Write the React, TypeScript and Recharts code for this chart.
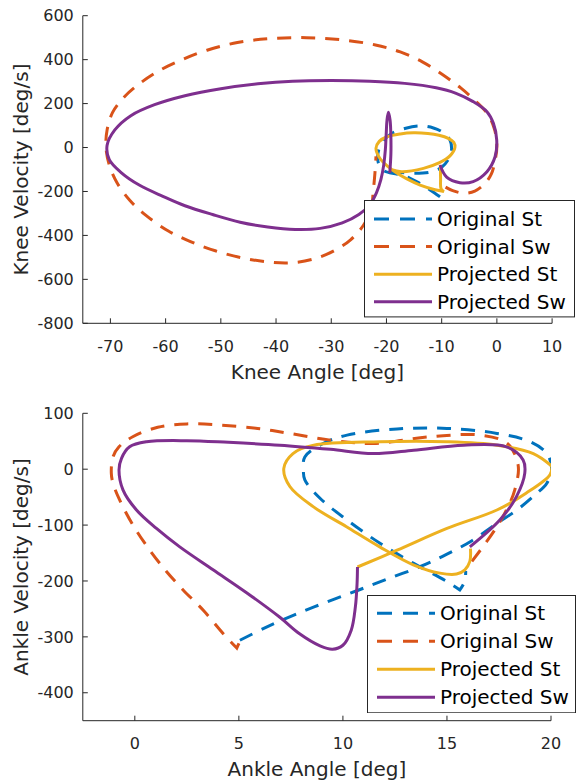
import React from 'react';
import { ComposedChart, Line, XAxis, YAxis, Label } from 'recharts';

// ---------------- data ----------------
const kneeXTicks = [-70, -60, -50, -40, -30, -20, -10, 0, 10];
const kneeYTicks = [-800, -600, -400, -200, 0, 200, 400, 600];
const ankleXTicks = [0, 5, 10, 15, 20];
const ankleYTicks = [-400, -300, -200, -100, 0, 100];

const seriesNames = ['Original St', 'Original Sw', 'Projected St', 'Projected Sw'];

// Knee: [angle, velocity]
const kneeOriginalSt = [
  [-10.3, -224], [-12.1, -193], [-14, -163], [-15.7, -140], [-18, -122], [-20.3, -108],
  [-21.2, -87], [-21.6, -50], [-21.4, -10], [-20.6, 30], [-19.2, 62], [-16.5, 88], [-13.9, 98],
  [-11.5, 89], [-9.6, 66], [-8.5, 34], [-8.2, -5], [-8.6, -45], [-10, -90], [-12.1, -112],
  [-15, -117], [-18, -112], [-20.3, -104],
];
const kneeOriginalSw = [
  [-9.3, -180], [-8, -196], [-6, -208], [-4, -198], [-2.2, -165], [-1, -120], [-0.3, -55],
  [0, 5], [-0.4, 80], [-1.6, 150], [-3.8, 210], [-6.5, 270], [-10, 335], [-13.5, 390],
  [-17.5, 435], [-22, 467], [-28, 490], [-34.5, 500], [-41, 496], [-47, 478], [-52.5, 443],
  [-57, 400], [-61, 352], [-64.5, 295], [-67.5, 230], [-69.6, 160], [-70.6, 80], [-70.8, 0],
  [-70.2, -80], [-68.8, -160], [-66.5, -240], [-63.5, -310], [-59.5, -380], [-55.5, -428],
  [-51, -470], [-46, -503], [-41, -522], [-37, -524], [-33, -506], [-29.5, -470], [-26.5, -420],
  [-24.2, -355], [-22.8, -285], [-22.4, -200], [-22.1, -120], [-21.9, -40],
];
const kneeProjectedSt = [
  [-10.2, -82], [-10.2, -140], [-10.1, -188], [-9.6, -200], [-9.6, -200], [-11.2, -192],
  [-13.9, -171], [-16.3, -143], [-18.2, -115], [-19.7, -87], [-21.2, -49], [-21.9, -4],
  [-21.3, 28], [-19.9, 49], [-17.5, 62], [-15.1, 67], [-12.5, 64], [-10.5, 56], [-8.8, 42],
  [-7.8, 24], [-7.6, 0], [-8.5, -38], [-10.5, -70], [-13.3, -95], [-17.3, -110], [-19.2, -100],
];
const kneeProjectedSw = [
  [-10.3, -80], [-9.1, -135], [-6.7, -160], [-4.3, -155], [-1.8, -110], [-0.33, -42],
  [-0.03, 34], [-0.63, 110], [-1.8, 163], [-4.3, 209], [-7.5, 248], [-11, 272], [-16.7, 292],
  [-23, 302], [-30, 305], [-37, 302], [-43.3, 290], [-50, 268], [-56.5, 236], [-62, 195],
  [-66.3, 145], [-69.2, 80], [-70.6, 10], [-70.2, -55], [-68, -115], [-64.7, -172],
  [-60.5, -222], [-56.5, -265], [-51.5, -305], [-46.5, -340], [-41.5, -362], [-36.5, -373],
  [-32, -368], [-28, -343], [-25, -305], [-23, -260], [-21.8, -205], [-21, -145], [-20.5, -80],
  [-20.2, -10], [-20.05, 60], [-19.9, 125], [-19.65, 160], [-19.35, 125], [-19.2, 50],
  [-19.2, -30], [-19.4, -115],
];

// Ankle: [angle, velocity]
const ankleOriginalSt = [
  [5.05, -306], [6.3, -283], [7.7, -260], [9.2, -238], [10.7, -217], [12.1, -197], [13.7, -174.5],
  [15, -152], [16.2, -128], [17.4, -97], [18.4, -72], [19.2, -47], [19.8, -25], [20.03, 1.5],
  [19.8, 28], [19, 49], [17.4, 64], [15, 73], [12.6, 72], [10.2, 61], [9, 45], [8.17, 22],
  [8.1, -1.5], [8.17, -19], [8.9, -52], [10.2, -91], [11.8, -133], [13.4, -168.5], [15, -201],
  [15.62, -216], [15.62, -216], [15.86, -200], [15.9, -182],
];
const ankleOriginalSw = [
  [16.2, -165], [16.9, -130], [17.4, -103], [17.86, -73], [18.26, -37], [18.42, 7.5], [17.9, 46],
  [16.6, 61], [14.2, 58], [11.45, 46], [9.4, 52], [7.45, 64], [5.9, 73], [4.1, 79], [2.5, 81],
  [1.1, 75], [-0.1, 58], [-0.76, 40], [-1.05, 22], [-1.13, -7], [-1.05, -25], [-0.73, -55],
  [-0.09, -100], [0.72, -145], [1.52, -183], [2.32, -216], [3.28, -252], [4.24, -294],
  [4.9, -320], [4.9, -320], [5.05, -308],
];
const ankleProjectedSt = [
  [10.7, -175], [12.6, -145], [15, -106], [17.4, -73], [18.8, -43], [19.95, -10], [20.05, 5],
  [20.05, 5], [19.15, 28], [17.4, 43], [15, 49], [11.8, 49], [8.6, 43], [7.6, 28], [7.16, 1.5],
  [7.45, -31], [8.57, -67], [10.17, -103], [11.77, -139], [13.38, -171], [14.66, -186],
  [15.46, -187.6], [15.86, -180], [16.1, -165], [16.13, -142],
];
const ankleProjectedSw = [
  [16.1, -139], [17.54, -91], [18.34, -49], [18.74, -7], [18.66, 16.5], [17.86, 40], [15.8, 43],
  [13.4, 34], [11.45, 28], [9.4, 35.5], [6.97, 43], [4.5, 48], [2.5, 51], [0.56, 49],
  [-0.25, 40], [-0.64, 19.5], [-0.76, -1.4], [-0.57, -37], [0.08, -73], [1.04, -106],
  [2.16, -139], [3.76, -180], [5.37, -221], [6.97, -265], [7.9, -294], [8.9, -316], [9.5, -322],
  [10, -315], [10.4, -288], [10.6, -246], [10.68, -205], [10.7, -175],
];

// ---------------- styles ----------------
const FONT = '"DejaVu Sans", Verdana, sans-serif';
const AX = '#262626';
const COLORS = ['#0072BD', '#D95319', '#EDB120', '#7E2F8E'];
const DASHES = ['14 10', '14 10', undefined, undefined];
const LW = 3;

const toPts = (a: number[][]) => a.map(([x, y]) => ({ x, y }));

// Centripetal Catmull-Rom curve factory (d3 curve interface) for parametric paths
function catmullRom(context: any) {
  let pts: number[][] = [];
  const EPS = 1e-6;
  return {
    areaStart() {},
    areaEnd() {},
    lineStart() {
      pts = [];
    },
    point(x: number, y: number) {
      pts.push([+x, +y]);
    },
    lineEnd() {
      const n = pts.length;
      if (!n) return;
      context.moveTo(pts[0][0], pts[0][1]);
      const dist = (a: number[], b: number[]) => Math.hypot(a[0] - b[0], a[1] - b[1]);
      for (let i = 0; i < n - 1; i++) {
        const p0 = pts[i - 1] || pts[i];
        const p1 = pts[i];
        const p2 = pts[i + 1];
        const p3 = pts[i + 2] || p2;
        const l01_2a = dist(p0, p1);
        const l12_2a = dist(p1, p2);
        const l23_2a = dist(p2, p3);
        const l01_a = Math.sqrt(l01_2a);
        const l12_a = Math.sqrt(l12_2a);
        const l23_a = Math.sqrt(l23_2a);
        let c1x = p1[0], c1y = p1[1], c2x = p2[0], c2y = p2[1];
        if (l01_a > EPS && l12_a > EPS) {
          const a = 2 * l01_2a + 3 * l01_a * l12_a + l12_2a;
          const nn = 3 * l01_a * (l01_a + l12_a);
          c1x = (p1[0] * a - p0[0] * l12_2a + p2[0] * l01_2a) / nn;
          c1y = (p1[1] * a - p0[1] * l12_2a + p2[1] * l01_2a) / nn;
        }
        if (l23_a > EPS && l12_a > EPS) {
          const b = 2 * l23_2a + 3 * l23_a * l12_a + l12_2a;
          const m = 3 * l23_a * (l23_a + l12_a);
          c2x = (p2[0] * b + p1[0] * l23_2a - p3[0] * l12_2a) / m;
          c2y = (p2[1] * b + p1[1] * l23_2a - p3[1] * l12_2a) / m;
        }
        context.bezierCurveTo(c1x, c1y, c2x, c2y, p2[0], p2[1]);
      }
    },
  };
}

const tickStyle = { fill: AX, fontSize: 16, fontFamily: FONT };

function xTitle(text: string, off: number) {
  return (props: any) => {
    const vb = props.viewBox || {};
    return (
      <text
        x={(vb.x || 0) + (vb.width || 0) / 2}
        y={(vb.y || 0) + off}
        textAnchor="middle"
        fill={AX}
        fontSize={20}
        fontFamily={FONT}
      >
        {text}
      </text>
    );
  };
}

function yTitle(text: string, bx: number) {
  return (props: any) => {
    const vb = props.viewBox || {};
    const cy = (vb.y || 0) + (vb.height || 0) / 2;
    return (
      <text
        x={bx}
        y={cy}
        transform={`rotate(-90 ${bx} ${cy})`}
        textAnchor="middle"
        fill={AX}
        fontSize={20}
        fontFamily={FONT}
      >
        {text}
      </text>
    );
  };
}

function Panel(props: any) {
  const { w, h, margin, xDomain, xTicks, yDomain, yTicks, xLabel, yLabel, xH, series } = props;
  return (
    <ComposedChart width={w} height={h} margin={margin}>
      <XAxis
        type="number"
        dataKey="x"
        domain={xDomain}
        ticks={xTicks}
        interval={0}
        allowDataOverflow
        height={xH}
        tickSize={-5}
        tickMargin={22}
        axisLine={{ stroke: AX, strokeWidth: 1 }}
        tickLine={{ stroke: AX, strokeWidth: 1 }}
        tick={tickStyle}
      >
        <Label content={xTitle(xLabel, 55.7)} />
      </XAxis>
      <YAxis
        type="number"
        domain={yDomain}
        ticks={yTicks}
        interval={0}
        allowDataOverflow
        width={82.8}
        tickSize={-5}
        tickMargin={14}
        axisLine={{ stroke: AX, strokeWidth: 1 }}
        tickLine={{ stroke: AX, strokeWidth: 1 }}
        tick={tickStyle}
      >
        <Label content={yTitle(yLabel, 27.5)} />
      </YAxis>
      {series.map((s: number[][], i: number) => (
        <Line
          key={seriesNames[i]}
          name={seriesNames[i]}
          data={toPts(s)}
          dataKey="y"
          type={catmullRom as any}
          stroke={COLORS[i]}
          strokeWidth={LW}
          strokeDasharray={DASHES[i]}
          dot={false}
          activeDot={false}
          isAnimationActive={false}
        />
      ))}
    </ComposedChart>
  );
}

function LegendBox({ left, top, width, height, first, step }: any) {
  return (
    <div style={{ position: 'absolute', left, top, width, height }}>
      <svg width={width} height={height} style={{ display: 'block' }}>
        <rect x={0.5} y={0.5} width={width - 1} height={height - 1} fill="#fff" stroke={AX} strokeWidth={1} />
        {seriesNames.map((n, i) => {
          const cy = first + i * step;
          return (
            <g key={n}>
              <line x1={10} x2={68} y1={cy} y2={cy} stroke={COLORS[i]} strokeWidth={LW} strokeDasharray={i < 2 ? '15 11' : undefined} />
              <text x={73} y={cy + 7} fontSize={20} fontFamily={FONT} fill="#000">
                {n}
              </text>
            </g>
          );
        })}
      </svg>
    </div>
  );
}

export default function App() {
  return (
    <div style={{ position: 'absolute', left: 0, top: 0, width: 577, height: 783, background: '#fff', overflow: 'hidden' }}>
      <div style={{ position: 'absolute', left: 0, top: 0 }}>
        <Panel
          w={577}
          h={390}
          margin={{ top: 15.7, right: 24.9, bottom: 0, left: 0 }}
          xH={66.7}
          xDomain={[-75, 10]}
          xTicks={kneeXTicks}
          yDomain={[-800, 600]}
          yTicks={kneeYTicks}
          xLabel="Knee Angle [deg]"
          yLabel="Knee Velocity [deg/s]"
          series={[kneeOriginalSt, kneeOriginalSw, kneeProjectedSt, kneeProjectedSw]}
        />
      </div>
      <div style={{ position: 'absolute', left: 0, top: 390 }}>
        <Panel
          w={577}
          h={393}
          margin={{ top: 23.3, right: 26, bottom: 0, left: 0 }}
          xH={62.3}
          xDomain={[-2.5, 20]}
          xTicks={ankleXTicks}
          yDomain={[-450, 100]}
          yTicks={ankleYTicks}
          xLabel="Ankle Angle [deg]"
          yLabel="Ankle Velocity [deg/s]"
          series={[ankleOriginalSt, ankleOriginalSw, ankleProjectedSt, ankleProjectedSw]}
        />
      </div>
      <LegendBox left={364.4} top={200.3} width={211} height={117.4} first={19} step={27.6} />
      <LegendBox left={367} top={595} width={209} height={118.3} first={18.2} step={28} />
    </div>
  );
}
